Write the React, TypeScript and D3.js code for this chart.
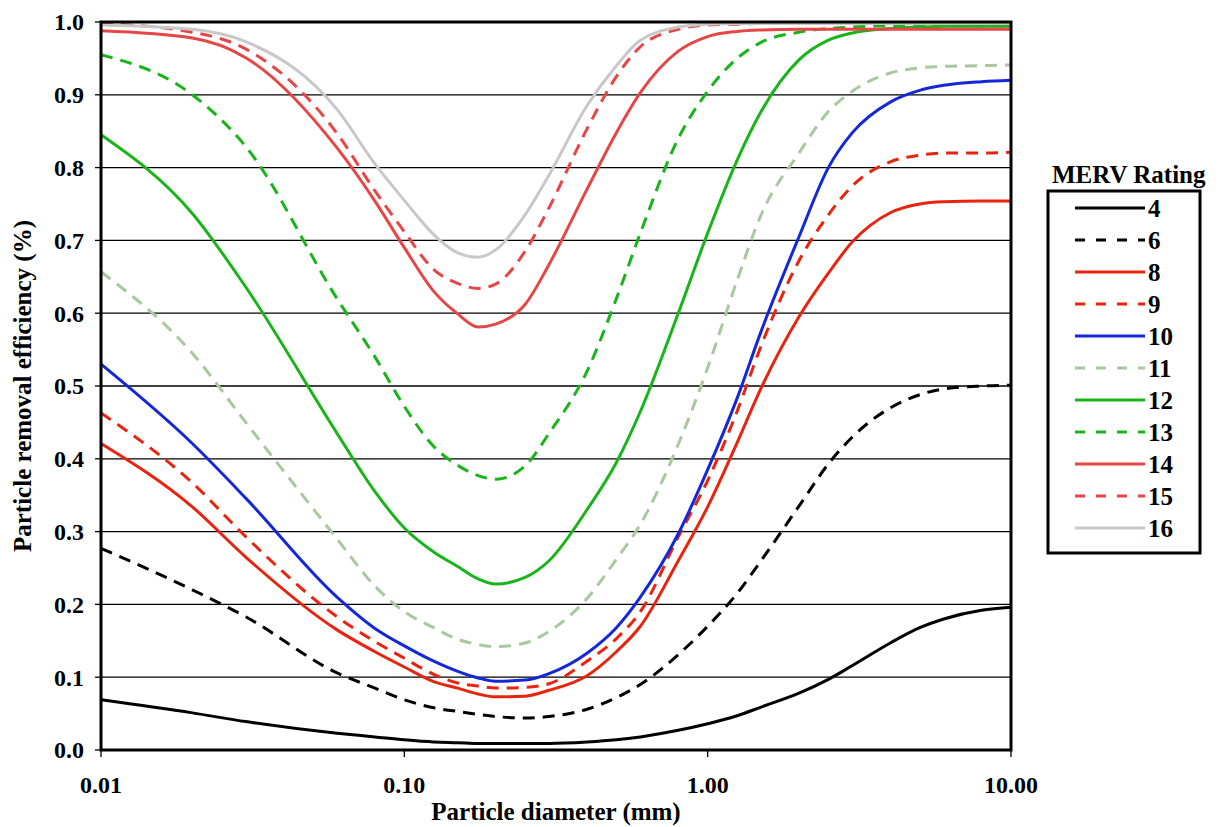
import React from "react";
import * as d3 from "d3";

// ---------- data ----------
const diameters = [0.01, 0.02, 0.03, 0.06, 0.08, 0.1, 0.125, 0.15, 0.175, 0.2, 0.25, 0.3, 0.4, 0.5, 0.6, 0.8, 1, 1.25, 1.5, 2, 2.5, 3, 4, 5, 6, 8, 10];

const merv4 = [0.069, 0.051, 0.039, 0.023, 0.018, 0.014, 0.011, 0.010, 0.009, 0.009, 0.009, 0.009, 0.011, 0.014, 0.018, 0.027, 0.036, 0.047, 0.059, 0.078, 0.097, 0.116, 0.147, 0.168, 0.180, 0.192, 0.196];
const merv6 = [0.277, 0.220, 0.183, 0.106, 0.085, 0.069, 0.058, 0.053, 0.049, 0.046, 0.044, 0.046, 0.056, 0.072, 0.090, 0.131, 0.170, 0.215, 0.260, 0.335, 0.393, 0.430, 0.470, 0.488, 0.496, 0.500, 0.501];
const merv8 = [0.421, 0.334, 0.265, 0.165, 0.135, 0.114, 0.094, 0.085, 0.077, 0.073, 0.074, 0.082, 0.102, 0.135, 0.170, 0.260, 0.334, 0.422, 0.497, 0.595, 0.655, 0.698, 0.738, 0.750, 0.753, 0.754, 0.754];
const merv9 = [0.463, 0.367, 0.293, 0.183, 0.149, 0.126, 0.104, 0.092, 0.088, 0.085, 0.086, 0.091, 0.122, 0.153, 0.190, 0.293, 0.370, 0.465, 0.555, 0.672, 0.735, 0.775, 0.808, 0.817, 0.820, 0.820, 0.821];
const merv10 = [0.530, 0.421, 0.346, 0.210, 0.167, 0.143, 0.122, 0.108, 0.099, 0.0945, 0.096, 0.105, 0.133, 0.168, 0.210, 0.297, 0.385, 0.483, 0.575, 0.705, 0.800, 0.848, 0.890, 0.906, 0.913, 0.918, 0.920];
const merv11 = [0.657, 0.545, 0.450, 0.290, 0.225, 0.190, 0.168, 0.152, 0.145, 0.142, 0.147, 0.163, 0.208, 0.262, 0.310, 0.420, 0.525, 0.645, 0.735, 0.820, 0.877, 0.905, 0.930, 0.937, 0.939, 0.940, 0.941];
const merv12 = [0.845, 0.737, 0.636, 0.435, 0.355, 0.305, 0.272, 0.252, 0.235, 0.228, 0.237, 0.260, 0.330, 0.395, 0.465, 0.600, 0.710, 0.810, 0.877, 0.948, 0.975, 0.985, 0.991, 0.993, 0.994, 0.994, 0.994];
const merv13 = [0.955, 0.900, 0.829, 0.620, 0.540, 0.472, 0.417, 0.391, 0.377, 0.372, 0.390, 0.435, 0.520, 0.620, 0.710, 0.840, 0.905, 0.950, 0.972, 0.986, 0.991, 0.993, 0.995, 0.995, 0.995, 0.995, 0.995];
const merv14 = [0.988, 0.978, 0.951, 0.827, 0.754, 0.690, 0.630, 0.599, 0.581, 0.585, 0.612, 0.667, 0.770, 0.848, 0.903, 0.960, 0.980, 0.987, 0.989, 0.990, 0.990, 0.990, 0.990, 0.990, 0.990, 0.990, 0.990];
const merv15 = [0.998, 0.986, 0.963, 0.847, 0.768, 0.712, 0.660, 0.641, 0.634, 0.640, 0.685, 0.745, 0.853, 0.925, 0.966, 0.990, 0.996, 0.997, 0.998, 0.998, 0.998, 0.998, 0.998, 0.998, 0.998, 0.998, 0.998];
const merv16 = [0.996, 0.990, 0.973, 0.880, 0.805, 0.755, 0.708, 0.683, 0.677, 0.687, 0.735, 0.790, 0.885, 0.940, 0.975, 0.993, 0.997, 0.998, 0.998, 0.998, 0.998, 0.998, 0.998, 0.998, 0.998, 0.998, 0.998];

const seriesNames = ["4", "6", "8", "9", "10", "11", "12", "13", "14", "15", "16"];
const seriesValues = [merv4, merv6, merv8, merv9, merv10, merv11, merv12, merv13, merv14, merv15, merv16];

const yTicks = [0, 0.1, 0.2, 0.3, 0.4, 0.5, 0.6, 0.7, 0.8, 0.9, 1.0];
const xTicks = [0.01, 0.1, 1, 10];
const xTickLabels = ["0.01", "0.10", "1.00", "10.00"];

// ---------- styles ----------
const seriesColors = ["#000000", "#000000", "#e8230e", "#e8230e", "#1428d8", "#a8c8a0", "#19b419", "#19b419", "#e64646", "#e64646", "#c8c8c8"];
const seriesDashed = [false, true, false, true, false, true, false, true, false, true, false];

const FONT = '"Liberation Serif", "Times New Roman", Times, "DejaVu Serif", serif';

export default function App() {
  const W = 1219;
  const H = 827;
  const left = 101, right = 1011, top = 22, bottom = 750;

  const x = d3.scaleLog().domain([0.01, 10]).range([left, right]);
  const y = d3.scaleLinear().domain([0, 1]).range([bottom, top]);

  const line = d3
    .line<[number, number]>()
    .x((d) => x(d[0]))
    .y((d) => y(d[1]))
    .curve(d3.curveMonotoneX);

  const fmt = d3.format(".1f");

  const legendX = 1048, legendY = 191, legendW = 152, legendH = 362;
  const rowY0 = 208, rowStep = 32;

  const textStyle: React.CSSProperties = { fontFamily: FONT, fontWeight: 700 };

  return (
    <svg
      width={W}
      height={H}
      style={{ position: "absolute", left: 0, top: 0, background: "#fff", fontFamily: FONT, fontWeight: 700 }}
    >
      <rect x={0} y={0} width={W} height={H} fill="#fff" />
      {yTicks.slice(1, -1).map((t) => (
        <line key={"g" + t} x1={left} x2={right} y1={y(t)} y2={y(t)} stroke="#000" strokeWidth={1.3} />
      ))}
      {yTicks.map((t) => (
        <g key={"y" + t}>
          <line x1={left - 6} x2={left} y1={y(t)} y2={y(t)} stroke="#000" strokeWidth={1.3} />
          <text x={84} y={y(t)} dy="0.35em" textAnchor="end" fontSize={24} style={textStyle}>
            {fmt(t)}
          </text>
        </g>
      ))}
      {xTicks.map((t, i) => (
        <g key={"x" + t}>
          <line x1={x(t)} x2={x(t)} y1={bottom} y2={bottom + 7} stroke="#000" strokeWidth={1.3} />
          <text x={x(t)} y={793} textAnchor="middle" fontSize={24} style={textStyle}>
            {xTickLabels[i]}
          </text>
        </g>
      ))}
      {seriesValues.map((vals, i) => {
        const pts: [number, number][] = diameters.map((d, j) => [d, vals[j]]);
        return (
          <path
            key={"s" + i}
            d={line(pts) || ""}
            fill="none"
            stroke={seriesColors[i]}
            strokeWidth={3}
            strokeDasharray={seriesDashed[i] ? "12,8" : undefined}
          />
        );
      })}
      <rect x={left} y={top} width={right - left} height={bottom - top} fill="none" stroke="#000" strokeWidth={3} />
      <text x={556} y={820} textAnchor="middle" fontSize={25} style={textStyle}>
        Particle diameter (mm)
      </text>
      <text transform={`translate(31, 386) rotate(-90)`} textAnchor="middle" fontSize={25} style={textStyle}>
        Particle removal efficiency (%)
      </text>
      <text x={1052} y={183} fontSize={25} style={textStyle}>
        MERV Rating
      </text>
      <rect x={legendX} y={legendY} width={legendW} height={legendH} fill="#fff" stroke="#000" strokeWidth={3} />
      {seriesNames.map((n, i) => {
        const ry = rowY0 + i * rowStep;
        return (
          <g key={"l" + n}>
            <line
              x1={1075}
              x2={1145}
              y1={ry}
              y2={ry}
              stroke={seriesColors[i]}
              strokeWidth={3}
              strokeDasharray={seriesDashed[i] ? "10,11" : undefined}
            />
            <text x={1148} y={ry} dy="0.35em" fontSize={25} style={textStyle}>
              {n}
            </text>
          </g>
        );
      })}
    </svg>
  );
}
